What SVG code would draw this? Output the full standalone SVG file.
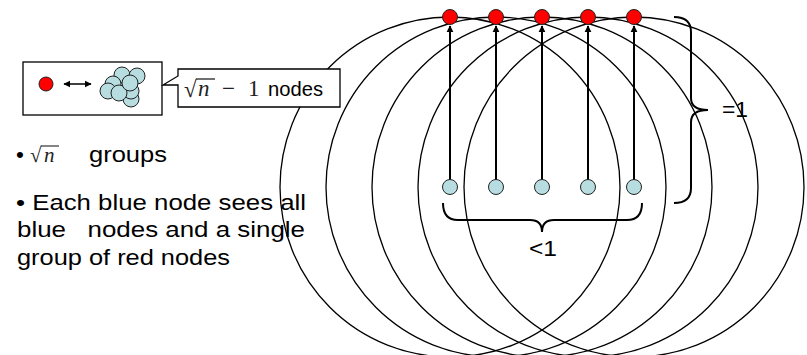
<svg xmlns="http://www.w3.org/2000/svg" width="807" height="355" viewBox="0 0 807 355">
<defs>
<style>
.ring{fill:none;stroke:#000;stroke-width:1.3}
.red{fill:#ff0000;stroke:#222;stroke-width:1}
.blue{fill:#b7dde0;stroke:#222;stroke-width:1}
.arr{stroke:#000;stroke-width:2;fill:none}
.brace{fill:none;stroke:#000;stroke-width:2}
.t{font-family:"Liberation Sans",Arial,sans-serif;fill:#000}
.m{font-family:"Liberation Serif","DejaVu Serif",serif;fill:#222}
.box{fill:#fff;stroke:#000;stroke-width:1.3}
</style>
<marker id="ah" viewBox="0 0 10 10" refX="9" refY="5" markerWidth="7" markerHeight="8" markerUnits="userSpaceOnUse" orient="auto-start-reverse">
<path d="M0,0 L10,5 L0,10 Z" fill="#000"/>
</marker>
</defs>
<rect width="807" height="355" fill="#fff"/>

<g id="ranges">
<circle class="ring" cx="450" cy="187" r="170"/>
<circle class="ring" cx="496" cy="187" r="170"/>
<circle class="ring" cx="542" cy="187" r="170"/>
<circle class="ring" cx="588" cy="187" r="170"/>
<circle class="ring" cx="634" cy="187" r="170"/>
</g>

<g id="connectors">
<line class="arr" x1="450" y1="180" x2="450" y2="26" marker-end="url(#ah)"/>
<line class="arr" x1="496" y1="180" x2="496" y2="26" marker-end="url(#ah)"/>
<line class="arr" x1="542" y1="180" x2="542" y2="26" marker-end="url(#ah)"/>
<line class="arr" x1="588" y1="180" x2="588" y2="26" marker-end="url(#ah)"/>
<line class="arr" x1="634" y1="180" x2="634" y2="26" marker-end="url(#ah)"/>
</g>

<g id="red-nodes">
<circle id="r1" class="red" cx="450" cy="17" r="7.5"/>
<circle id="r2" class="red" cx="496" cy="17" r="7.5"/>
<circle id="r3" class="red" cx="542" cy="17" r="7.5"/>
<circle id="r4" class="red" cx="588" cy="17" r="7.5"/>
<circle id="r5" class="red" cx="634" cy="17" r="7.5"/>
</g>
<g id="blue-nodes">
<circle id="b1" class="blue" cx="450" cy="187" r="7.5"/>
<circle id="b2" class="blue" cx="496" cy="187" r="7.5"/>
<circle id="b3" class="blue" cx="542" cy="187" r="7.5"/>
<circle id="b4" class="blue" cx="588" cy="187" r="7.5"/>
<circle id="b5" class="blue" cx="634" cy="187" r="7.5"/>
</g>

<g id="brace-bottom">
<path class="brace" d="M443,203 Q443,220 458,220 L530,220 Q542,220 542,232 Q542,220 554,220 L627,220 Q642,220 642,203"/>
<text class="t" x="529" y="256" font-size="22" textLength="28" lengthAdjust="spacingAndGlyphs">&lt;1</text>
</g>
<g id="brace-right">
<path class="brace" d="M674,17 Q691,17 691,32 L691,98 Q691,110 708,110 Q691,110 691,122 L691,188 Q691,203 674,203"/>
<text class="t" x="722" y="117" font-size="22" textLength="26" lengthAdjust="spacingAndGlyphs">=1</text>
</g>

<g id="legend-box">
<rect class="box" x="23" y="62" width="139" height="53"/>
<circle class="red" cx="46" cy="84" r="7"/>
<line class="arr" x1="64" y1="84" x2="91" y2="84" marker-start="url(#ah)" marker-end="url(#ah)" style="stroke-width:1.5"/>
<g class="blue">
<circle cx="122" cy="75" r="8"/>
<circle cx="137" cy="76" r="8"/>
<circle cx="113" cy="84" r="8"/>
<circle cx="131" cy="99" r="8"/>
<circle cx="131" cy="91" r="8"/>
<circle cx="108" cy="91" r="8"/>
<circle cx="119" cy="93" r="8"/>
<circle cx="130" cy="83" r="8"/>
</g>
</g>

<g id="callout">
<path class="box" d="M178,69 H340 V107 H178 V85 L163,85 L178,76 Z"/>
<text class="m" x="184" y="97" font-size="23">√</text>
<line x1="196" y1="79" x2="215" y2="79" stroke="#222" stroke-width="1.3"/>
<text class="m" x="198" y="96" font-size="23" font-style="italic">n</text>
<text class="m" x="222" y="96" font-size="23">−</text>
<text class="m" x="248" y="96" font-size="23">1</text>
<text class="t" x="268" y="96" font-size="20" textLength="55" lengthAdjust="spacingAndGlyphs">nodes</text>
</g>

<g id="bullets">
<text class="t" x="16" y="162" font-size="22.5">•</text>
<text class="m" x="30" y="162" font-size="21">√</text>
<line x1="41" y1="146" x2="59" y2="146" stroke="#222" stroke-width="1.1"/>
<text class="m" x="44" y="162" font-size="21" font-style="italic">n</text>
<text class="t" x="89" y="162" font-size="22.5" textLength="78" lengthAdjust="spacingAndGlyphs">groups</text>
<text class="t" x="16" y="210" font-size="22.5" textLength="290" lengthAdjust="spacingAndGlyphs">• Each blue node sees all</text>
<text class="t" x="17" y="237" font-size="22.5" textLength="288" lengthAdjust="spacingAndGlyphs" xml:space="preserve">blue   nodes and a single</text>
<text class="t" x="17" y="265" font-size="22.5" textLength="213" lengthAdjust="spacingAndGlyphs">group of red nodes</text>
</g>
</svg>
